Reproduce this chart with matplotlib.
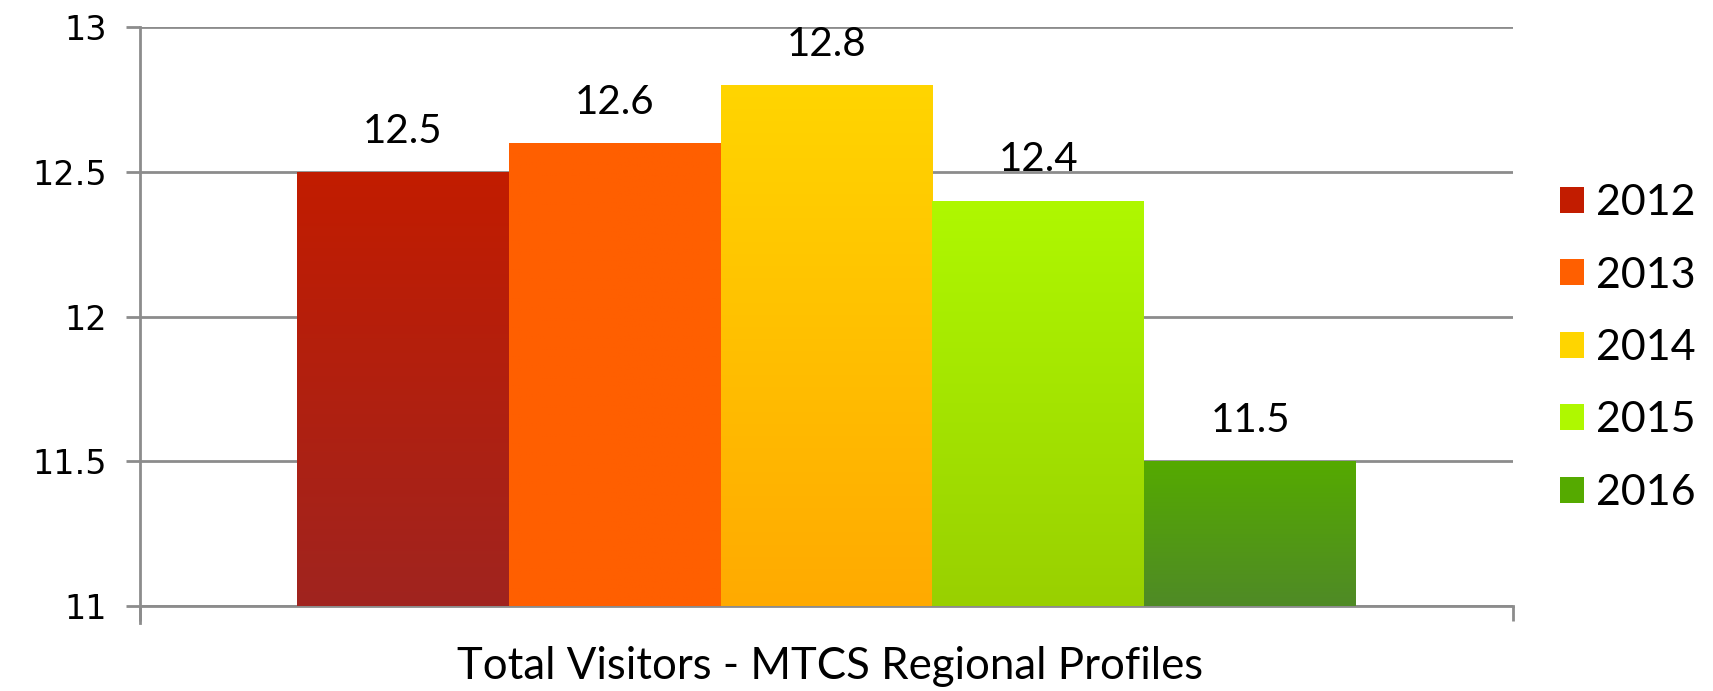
import numpy as np
import matplotlib
matplotlib.use('Agg')
import matplotlib.pyplot as plt
from matplotlib.colors import LinearSegmentedColormap
from matplotlib.patches import Patch

YEARS = ['2012', '2013', '2014', '2015', '2016']
VALUES = [12.5, 12.6, 12.8, 12.4, 11.5]
TOP_COLORS = ['#C21C00', '#FF5F00', '#FFD500', '#AFF800', '#55AA00']
BOTTOM_COLORS = ['#A0241F', '#FF5F00', '#FFAA00', '#99D000', '#4F8A26']
CATEGORY = 'Total Visitors - MTCS Regional Profiles'

W, H = 1713, 691
fig = plt.figure(figsize=(W / 100, H / 100), dpi=100)
ax = fig.add_axes([140 / W, 1 - 606 / H, 1373 / W, 579 / H])

LABEL_FONT = ['Lato', 'DejaVu Sans']
GRID = '#8C8C8C'

n = len(VALUES)
w = 1059 / 1373 / n
base = 11
for i, (v, c0, c1) in enumerate(zip(VALUES, TOP_COLORS, BOTTOM_COLORS)):
    x = (i - (n - 1) / 2) * w
    b = ax.bar(x, v - base, w, bottom=base, color=c0, linewidth=0, zorder=3)[0]
    cmap = LinearSegmentedColormap.from_list(f'g{i}', [c1, c0])
    grad = np.linspace(0, 1, 256).reshape(-1, 1)
    im = ax.imshow(grad, extent=[b.get_x(), b.get_x() + b.get_width(), base, v],
                   origin='lower', aspect='auto', cmap=cmap, zorder=3.1)
    im.set_clip_path(b)
    ax.annotate(f'{v:.1f}', xy=(x, v), xytext=(0, 16), textcoords='offset points',
                ha='center', va='bottom', fontsize=29, family=LABEL_FONT, color='black')

ax.set_xlim(-0.5, 0.5)
ax.set_ylim(11, 13)
ax.set_yticks([11, 11.5, 12, 12.5, 13])
ax.set_yticklabels(['11', '11.5', '12', '12.5', '13'])
ax.yaxis.grid(True, color=GRID, linewidth=2, zorder=0)
ax.set_axisbelow(True)
ax.tick_params(axis='y', length=10, width=2, color=GRID, labelsize=24, pad=14)
ax.set_xticks([-0.5, 0.5])
ax.set_xticklabels(['', ''])
ax.tick_params(axis='x', length=11, width=2, color=GRID)
for s in ['top', 'right']:
    ax.spines[s].set_visible(False)
for s in ['left', 'bottom']:
    ax.spines[s].set_color(GRID)
    ax.spines[s].set_linewidth(2)
ax.spines['left'].set_bounds(10.94, 13)

fig.text(830 / W, 1 - 679 / H, CATEGORY, ha='center', va='baseline',
         fontsize=31.5, family=LABEL_FONT)

handles = [Patch(facecolor=c0, edgecolor='none') for c0 in TOP_COLORS]
fig.legend(handles, YEARS, loc='center left', bbox_to_anchor=(1560 / W, 1 - 348 / H),
           frameon=False, prop={'family': LABEL_FONT, 'size': 31},
           handlelength=0.56, handleheight=0.56, handletextpad=0.27,
           labelspacing=0.8, borderpad=0, borderaxespad=0)

fig.savefig('out.png', dpi=100)
